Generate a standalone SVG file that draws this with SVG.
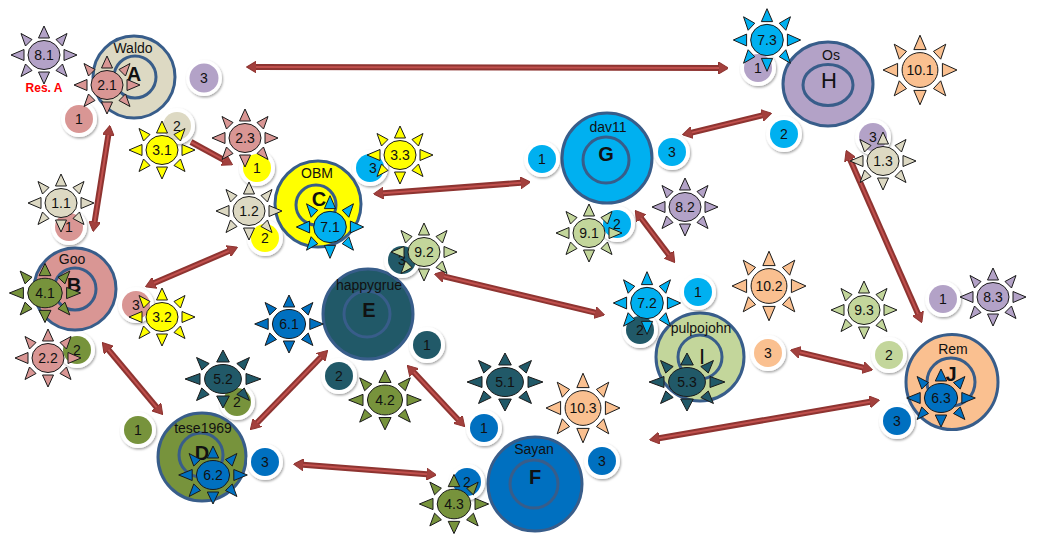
<svg xmlns="http://www.w3.org/2000/svg" xmlns:xlink="http://www.w3.org/1999/xlink" width="1044" height="555" viewBox="0 0 1044 555">
<style>
text{font-family:"Liberation Sans",Arial,sans-serif;fill:#111;text-anchor:middle}
.num{font-size:14px}
.lbl{font-size:14px}
.let{font-size:20px;font-weight:bold}
.letn{font-size:22px}
.node{stroke:#385D8A;stroke-width:3}
.inner{fill:none;stroke:#385D8A;stroke-width:3}
.halo{fill:#fff;filter:url(#sh)}
.sunp{stroke:#1a1a1a;stroke-width:1;vector-effect:non-scaling-stroke}
.ar{stroke:#8E3431;stroke-width:6;fill:none}
.ars{stroke:#C0504D;stroke-width:2;fill:none}
.beige{fill:#DDD9C3}.pink{fill:#D99694}.yellow{fill:#FFFF00}.olive{fill:#77933C}.teal{fill:#215968}
.blue{fill:#0070C0}.cyan{fill:#00B0F0}.lav{fill:#B3A2C7}.lgreen{fill:#C3D69B}.peach{fill:#FAC090}
</style>
<defs>
<filter id="sh" x="-40%" y="-40%" width="180%" height="180%">
<feDropShadow dx="1" dy="1.5" stdDeviation="1.3" flood-color="#000" flood-opacity="0.35"/>
</filter>
<marker id="ah" viewBox="0 0 10 12" refX="0.5" refY="6" markerWidth="10" markerHeight="12" markerUnits="userSpaceOnUse" orient="auto-start-reverse">
<path d="M0,0 L10,6 L0,12 Z" fill="#A3403D" stroke="#8E3431" stroke-width="1"/>
</marker>
<g id="sun">
<path class="sunp" d="M20,-5.5 L33,0 L20,5.5 Z M-20,-5.5 L-33,0 L-20,5.5 Z M-5.5,-17 L0,-29 L5.5,-17 Z M-5.5,17 L0,29 L5.5,17 Z M12,-15.5 L23,-21.5 L18.5,-9 Z M-12,-15.5 L-23,-21.5 L-18.5,-9 Z M12,15.5 L23,21.5 L18.5,9 Z M-12,15.5 L-23,21.5 L-18.5,9 Z"/>
<ellipse class="sunp" rx="16" ry="14.5"/>
</g>
</defs>

<g id="connectors">
<line class="ar" x1="256" y1="67" x2="719" y2="68" marker-start="url(#ah)" marker-end="url(#ah)"/>
<line class="ars" x1="256" y1="67" x2="719" y2="68"/>
<line class="ar" x1="108.4" y1="134.9" x2="94.6" y2="222.1" marker-start="url(#ah)" marker-end="url(#ah)"/>
<line class="ars" x1="108.4" y1="134.9" x2="94.6" y2="222.1"/>
<line class="ar" x1="191" y1="142" x2="224.2" y2="160.2" marker-end="url(#ah)"/>
<line class="ars" x1="191" y1="142" x2="224.2" y2="160.2"/>
<line class="ar" x1="154.2" y1="283" x2="228.8" y2="251" marker-start="url(#ah)" marker-end="url(#ah)"/>
<line class="ars" x1="154.2" y1="283" x2="228.8" y2="251"/>
<line class="ar" x1="383" y1="193.2" x2="521" y2="182.8" marker-start="url(#ah)" marker-end="url(#ah)"/>
<line class="ars" x1="383" y1="193.2" x2="521" y2="182.8"/>
<line class="ar" x1="691.7" y1="132.6" x2="762.3" y2="115.4" marker-start="url(#ah)" marker-end="url(#ah)"/>
<line class="ars" x1="691.7" y1="132.6" x2="762.3" y2="115.4"/>
<line class="ar" x1="641" y1="218" x2="669" y2="255" marker-start="url(#ah)" marker-end="url(#ah)"/>
<line class="ars" x1="641" y1="218" x2="669" y2="255"/>
<line class="ar" x1="443.7" y1="276.3" x2="595.3" y2="312.7" marker-start="url(#ah)" marker-end="url(#ah)"/>
<line class="ars" x1="443.7" y1="276.3" x2="595.3" y2="312.7"/>
<line class="ar" x1="850" y1="159.2" x2="918" y2="313.8" marker-start="url(#ah)" marker-end="url(#ah)"/>
<line class="ars" x1="850" y1="159.2" x2="918" y2="313.8"/>
<line class="ar" x1="799.7" y1="352.3" x2="863.3" y2="367.7" marker-start="url(#ah)" marker-end="url(#ah)"/>
<line class="ars" x1="799.7" y1="352.3" x2="863.3" y2="367.7"/>
<line class="ar" x1="658.9" y1="438.3" x2="870.1" y2="401.7" marker-start="url(#ah)" marker-end="url(#ah)"/>
<line class="ars" x1="658.9" y1="438.3" x2="870.1" y2="401.7"/>
<line class="ar" x1="108.4" y1="349.7" x2="156.6" y2="407.3" marker-start="url(#ah)" marker-end="url(#ah)"/>
<line class="ars" x1="108.4" y1="349.7" x2="156.6" y2="407.3"/>
<line class="ar" x1="257" y1="422.8" x2="321" y2="357.2" marker-start="url(#ah)" marker-end="url(#ah)"/>
<line class="ars" x1="257" y1="422.8" x2="321" y2="357.2"/>
<line class="ar" x1="413.8" y1="372.3" x2="458.2" y2="419.7" marker-start="url(#ah)" marker-end="url(#ah)"/>
<line class="ars" x1="413.8" y1="372.3" x2="458.2" y2="419.7"/>
<line class="ar" x1="303" y1="464.8" x2="427" y2="474.2" marker-start="url(#ah)" marker-end="url(#ah)"/>
<line class="ars" x1="303" y1="464.8" x2="427" y2="474.2"/>
</g>

<g id="node-A">
<circle class="node beige" cx="134" cy="77" r="41"/>
<circle class="inner" cx="135" cy="77" r="21"/>
<text class="lbl" x="133" y="53">Waldo</text>
<text class="let" x="134" y="81">A</text>
<g transform="translate(79,119)"><circle class="halo" r="18"/><circle class="pink" r="14"/><text class="num" y="5">1</text></g>
<g transform="translate(177,126)"><circle class="halo" r="18"/><circle class="beige" r="14"/><text class="num" y="5">2</text></g>
<g transform="translate(204,78)"><circle class="halo" r="18"/><circle class="lav" r="14.5"/><text class="num" y="5">3</text></g>
<text x="44" y="92" style="fill:#FF0000;font-size:12px;font-weight:bold">Res. A</text>
</g>

<g id="node-B">
<circle class="node pink" cx="75" cy="289" r="41"/>
<circle class="inner" cx="75" cy="289" r="21"/>
<text class="lbl" x="72" y="264">Goo</text>
<text class="let" x="74" y="292">B</text>
<g transform="translate(69,227)"><circle class="halo" r="18"/><circle class="pink" r="14"/><text class="num" y="5">1</text></g>
<g transform="translate(77,350)"><circle class="halo" r="18"/><circle class="olive" r="14"/><text class="num" y="5">2</text></g>
<g transform="translate(136,305)"><circle class="halo" r="18"/><circle class="pink" r="14"/><text class="num" y="5">3</text></g>
</g>

<g id="node-C">
<circle class="node yellow" cx="318" cy="204" r="43"/>
<circle class="inner" cx="316" cy="205" r="20"/>
<text class="lbl" x="317" y="178">OBM</text>
<text class="let" x="319" y="206">C</text>
<g transform="translate(257,168)"><circle class="halo" r="18"/><circle class="yellow" r="14"/><text class="num" y="5">1</text></g>
<g transform="translate(265,238)"><circle class="halo" r="18"/><circle class="yellow" r="14"/><text class="num" y="5">2</text></g>
<g transform="translate(370,168)"><circle class="halo" r="18"/><circle class="cyan" r="14"/><text class="num" x="3" y="5">3</text></g>
</g>

<g id="node-D">
<circle class="node olive" cx="202" cy="457" r="44"/>
<circle class="inner" cx="201" cy="455" r="22"/>
<text class="lbl" x="203" y="433">tese1969</text>
<text class="let" x="202" y="460">D</text>
<g transform="translate(138,430)"><circle class="halo" r="18"/><circle class="olive" r="14"/><text class="num" y="5">1</text></g>
<g transform="translate(237,402)"><circle class="halo" r="18"/><circle class="olive" r="14"/><text class="num" y="5">2</text></g>
<g transform="translate(265,462)"><circle class="halo" r="18"/><circle class="blue" r="14"/><text class="num" y="5">3</text></g>
</g>

<g id="node-E">
<circle class="node teal" cx="368" cy="314" r="45"/>
<circle class="inner" cx="367" cy="314" r="23"/>
<text class="lbl" x="369" y="290">happygrue</text>
<text class="let" x="369" y="317">E</text>
<g transform="translate(427,345)"><circle class="halo" r="18"/><circle class="teal" r="14"/><text class="num" y="5">1</text></g>
<g transform="translate(339,376)"><circle class="halo" r="18"/><circle class="teal" r="14"/><text class="num" y="5">2</text></g>
<g transform="translate(402,260)"><circle class="halo" r="18"/><circle class="teal" r="14"/><text class="num" y="5">3</text></g>
</g>

<g id="node-F">
<circle class="node blue" cx="535" cy="484" r="47"/>
<circle class="inner" cx="534" cy="484" r="24"/>
<text class="lbl" x="534" y="454">Sayan</text>
<text class="let" x="535" y="484">F</text>
<g transform="translate(484,428)"><circle class="halo" r="18"/><circle class="blue" r="14"/><text class="num" y="5">1</text></g>
<g transform="translate(467,482)"><circle class="halo" r="18"/><circle class="blue" r="14"/><text class="num" y="5">2</text></g>
<g transform="translate(602,461)"><circle class="halo" r="18"/><circle class="blue" r="14"/><text class="num" y="5">3</text></g>
</g>

<g id="node-G">
<circle class="node cyan" cx="607" cy="158" r="45"/>
<circle class="inner" cx="606" cy="160" r="23"/>
<text class="lbl" x="608" y="132">dav11</text>
<text class="let" x="606" y="161">G</text>
<g transform="translate(542,159)"><circle class="halo" r="18"/><circle class="cyan" r="14"/><text class="num" y="5">1</text></g>
<g transform="translate(617,224)"><circle class="halo" r="18"/><circle class="cyan" r="14"/><text class="num" y="5">2</text></g>
<g transform="translate(672,152)"><circle class="halo" r="18"/><circle class="cyan" r="14"/><text class="num" y="5">3</text></g>
</g>

<g id="node-H">
<ellipse class="node lav" cx="828" cy="84" rx="45" ry="42"/>
<ellipse class="inner" cx="828" cy="85" rx="25" ry="20.5"/>
<text class="lbl" x="831" y="60">Os</text>
<text class="letn" x="829" y="88">H</text>
<g transform="translate(758,68)"><circle class="halo" r="18"/><circle class="lav" r="14"/><text class="num" y="5">1</text></g>
<g transform="translate(784,134)"><circle class="halo" r="18"/><circle class="cyan" r="14"/><text class="num" y="5">2</text></g>
<g transform="translate(873,137)"><circle class="halo" r="18"/><circle class="lav" r="14"/><text class="num" y="5">3</text></g>
</g>

<g id="node-I">
<circle class="node lgreen" cx="700" cy="357" r="44"/>
<circle class="inner" cx="700" cy="357" r="22"/>
<text class="lbl" x="701" y="333">pulpojohn</text>
<text class="letn" x="702" y="364">I</text>
<g transform="translate(698,292)"><circle class="halo" r="18"/><circle class="cyan" r="14"/><text class="num" y="5">1</text></g>
<g transform="translate(640,330)"><circle class="halo" r="18"/><circle class="teal" r="14"/><text class="num" y="5">2</text></g>
<g transform="translate(768,353)"><circle class="halo" r="18"/><circle class="peach" r="14"/><text class="num" y="5">3</text></g>
</g>

<g id="node-J">
<ellipse class="node peach" cx="952" cy="382" rx="46" ry="47.5"/>
<circle class="inner" cx="951" cy="382" r="24"/>
<text class="lbl" x="953" y="354">Rem</text>
<text class="let" x="951" y="381">J</text>
<g transform="translate(943,299)"><circle class="halo" r="18"/><circle class="lav" r="14"/><text class="num" y="5">1</text></g>
<g transform="translate(889,355)"><circle class="halo" r="18"/><circle class="lgreen" r="14"/><text class="num" y="5">2</text></g>
<g transform="translate(897,421)"><circle class="halo" r="18"/><circle class="blue" r="14"/><text class="num" y="5">3</text></g>
</g>

<g id="resources">
<g id="res-1-1"><use href="#sun" class="beige" transform="translate(61,203)"/><text class="num" x="61" y="208">1.1</text></g>
<g id="res-1-2"><use href="#sun" class="beige" transform="translate(249,211)"/><text class="num" x="249" y="216">1.2</text></g>
<g id="res-1-3"><use href="#sun" class="beige" transform="translate(883,161)"/><text class="num" x="883" y="166">1.3</text></g>
<g id="res-2-1"><use href="#sun" class="pink" transform="translate(107,85)"/><text class="num" x="107" y="90">2.1</text></g>
<g id="res-2-2"><use href="#sun" class="pink" transform="translate(48,358)"/><text class="num" x="48" y="363">2.2</text></g>
<g id="res-2-3"><use href="#sun" class="pink" transform="translate(245,138)"/><text class="num" x="245" y="143">2.3</text></g>
<g id="res-3-1"><use href="#sun" class="yellow" transform="translate(162,150)"/><text class="num" x="162" y="155">3.1</text></g>
<g id="res-3-2"><use href="#sun" class="yellow" transform="translate(162,317)"/><text class="num" x="162" y="322">3.2</text></g>
<g id="res-3-3"><use href="#sun" class="yellow" transform="translate(400,155)"/><text class="num" x="400" y="160">3.3</text></g>
<g id="res-4-1"><use href="#sun" class="olive" transform="translate(45,293) scale(1.08,1.02)"/><text class="num" x="45" y="298">4.1</text></g>
<g id="res-4-2"><use href="#sun" class="olive" transform="translate(385,400) scale(1.1,1.03)"/><text class="num" x="385" y="405">4.2</text></g>
<g id="res-4-3"><use href="#sun" class="olive" transform="translate(454,504) scale(1.05,1.02)"/><text class="num" x="454" y="509">4.3</text></g>
<g id="res-5-1"><use href="#sun" class="teal" transform="translate(505,382) scale(1.15,1)"/><text class="num" x="505" y="387">5.1</text></g>
<g id="res-5-2"><use href="#sun" class="teal" transform="translate(223,379) scale(1.15,1)"/><text class="num" x="223" y="384">5.2</text></g>
<g id="res-5-3"><use href="#sun" class="teal" transform="translate(687,382) scale(1.15,1)"/><text class="num" x="687" y="387">5.3</text></g>
<g id="res-6-1"><use href="#sun" class="blue" transform="translate(289,324) scale(1.04,1)"/><text class="num" x="289" y="329">6.1</text></g>
<g id="res-6-2"><use href="#sun" class="blue" transform="translate(213,475) scale(1.04,1)"/><text class="num" x="213" y="480">6.2</text></g>
<g id="res-6-3"><use href="#sun" class="blue" transform="translate(941,398) scale(1.04,1)"/><text class="num" x="941" y="403">6.3</text></g>
<g id="res-7-1"><use href="#sun" class="cyan" transform="translate(330,227) scale(1.02,1.08)"/><text class="num" x="330" y="232">7.1</text></g>
<g id="res-7-2"><use href="#sun" class="cyan" transform="translate(647,303) scale(1.02,1.08)"/><text class="num" x="647" y="308">7.2</text></g>
<g id="res-7-3"><use href="#sun" class="cyan" transform="translate(767,40) scale(1.02,1.08)"/><text class="num" x="767" y="45">7.3</text></g>
<g id="res-8-1"><use href="#sun" class="lav" transform="translate(44,55)"/><text class="num" x="44" y="60">8.1</text></g>
<g id="res-8-2"><use href="#sun" class="lav" transform="translate(685,207)"/><text class="num" x="685" y="212">8.2</text></g>
<g id="res-8-3"><use href="#sun" class="lav" transform="translate(993,297)"/><text class="num" x="993" y="302">8.3</text></g>
<g id="res-9-1"><use href="#sun" class="lgreen" transform="translate(589,233)"/><text class="num" x="589" y="238">9.1</text></g>
<g id="res-9-2"><use href="#sun" class="lgreen" transform="translate(424,252)"/><text class="num" x="424" y="257">9.2</text></g>
<g id="res-9-3"><use href="#sun" class="lgreen" transform="translate(864,310)"/><text class="num" x="864" y="315">9.3</text></g>
<g id="res-10-1"><use href="#sun" class="peach" transform="translate(920,70) scale(1.12,1.2)"/><text class="num" x="920" y="75">10.1</text></g>
<g id="res-10-2"><use href="#sun" class="peach" transform="translate(769,286) scale(1.12,1.2)"/><text class="num" x="769" y="291">10.2</text></g>
<g id="res-10-3"><use href="#sun" class="peach" transform="translate(583,408) scale(1.12,1.2)"/><text class="num" x="583" y="413">10.3</text></g>
</g>
</svg>
